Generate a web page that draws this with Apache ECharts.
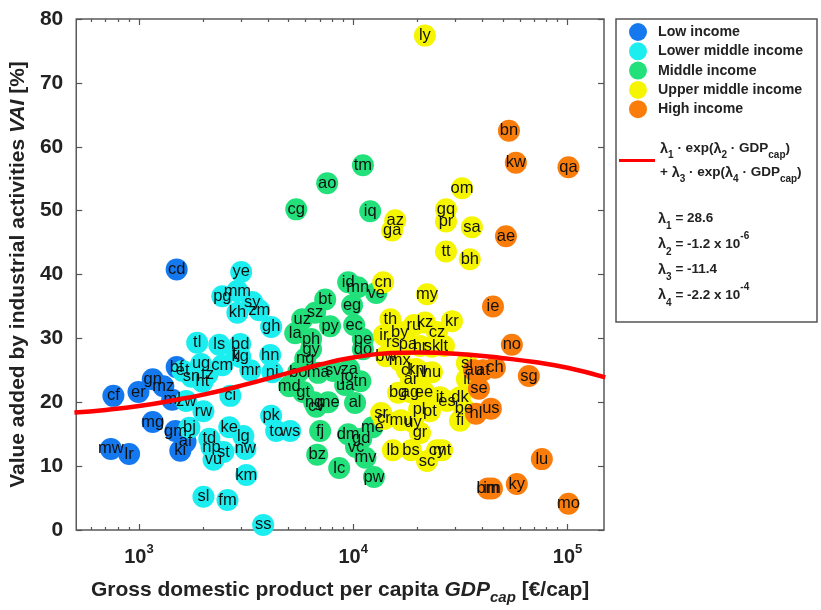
<!DOCTYPE html>
<html><head><meta charset="utf-8">
<script src="https://cdn.jsdelivr.net/npm/echarts@6/dist/echarts.min.js"></script>
<style>html,body{margin:0;padding:0;background:#fff}#c{width:821px;height:610px}</style>
</head><body><div id="c"></div>
<script>
// ---------- data (GDP per capita in €/cap, VAI in %) ----------
const lowLabels = ['cd','mw','lr','cf','er','gn','mz','bf','ml','mg','gm','af','ki'];
const lowGdp    = [1500,740,900,760,995,1160,1300,1500,1430,1160,1480,1650,1560];
const lowVai    = [40.8,12.7,11.9,21.0,21.6,23.6,22.5,25.5,20.4,16.9,15.5,13.8,12.4];

const lmLabels = ['ye','pg','mm','sy','kh','zm','gh','tl','ls','bd','tj','kg','hn','ug','cm','tz','mr','ni','et','sn','ht','ci','zw','rw','bj','td','np','st','vu','ke','lg','nw','km','sl','fm','ss','pk','to','ws'];
const lmGdp    = [3000,2450,2880,3380,2880,3640,4140,1870,2370,2970,2850,2970,4100,1950,2450,2090,3310,4190,1600,1760,1980,2670,1660,2000,1720,2130,2180,2480,2230,2640,3070,3140,3170,2000,2590,3800,4140,4370,5080];
const lmVai    = [40.4,36.6,37.4,35.7,34.0,34.4,31.8,29.3,29.0,29.1,27.5,27.1,27.4,26.0,25.8,24.4,25.0,24.7,24.9,24.0,23.2,21.0,20.2,18.6,16.0,14.3,13.0,12.2,11.0,16.1,14.7,12.7,8.6,5.2,4.7,0.8,17.9,15.5,15.5];

const midLabels = ['tm','ao','cg','iq','bt','sz','uz','la','ph','py','gy','ng','bo','md','gt','ma','sv','za','jo','ua','tn','ec','eg','id','mn','ve','pe','do','ng','me','cv','al','fj','bz','lc','dm','vc','gd','mv','pw','me'];
const midGdp    = [11100,7560,5420,12000,7400,6640,5780,5360,6360,7800,6360,5970,5540,5030,5840,6860,8060,9570,9370,9170,10800,10100,9880,9470,10500,12800,11100,11100,6570,7640,6720,10200,7010,6790,8600,9470,10300,10900,11400,12500,12300];
const midVai    = [57.1,54.3,50.2,49.9,36.1,34.0,33.0,30.8,29.9,31.9,28.3,26.8,24.7,22.5,21.6,24.6,24.9,25.2,24.0,22.7,23.3,32.1,35.2,38.8,38.0,37.1,29.9,28.3,20.0,20.0,19.3,19.9,15.5,11.8,9.7,15.0,13.0,14.3,11.3,8.3,16.1];

const umLabels = ['ly','om','gq','pr','az','ga','sa','tt','bh','cn','my','th','ru','kz','kr','cz','by','ir','rs','pa','hr','sk','lt','bw','mx','cl','kn','lv','hu','ar','bg','ag','ee','it','es','dk','be','fi','si','il','cy','mt','sc','gr','bs','lb','sr','cr','mu','uy','pt','pl'];
const umGdp    = [21600,32200,27100,27100,15700,15200,35800,27100,35000,13800,22100,14900,19200,21600,28900,24600,16500,13900,15300,18000,20500,23300,26500,14200,16500,17800,19600,20900,23300,18600,16200,18400,21400,25400,27400,31500,32900,31500,33900,33900,24600,26000,22100,20500,18600,15300,13500,13900,16700,19000,22800,20300];
const umVai    = [77.4,53.5,50.2,48.3,48.5,46.9,47.4,43.6,42.4,38.8,36.9,33.0,32.1,32.5,32.7,31.0,31.0,30.5,29.3,29.0,28.8,28.7,28.8,27.2,26.5,25.0,25.2,24.7,24.7,23.5,21.5,21.6,21.6,20.8,20.2,20.8,19.0,17.1,26.1,23.6,12.5,12.5,10.8,15.2,12.5,12.5,18.3,17.4,17.2,16.9,18.6,18.9];

const hiLabels = ['bn','kw','qa','ae','ie','no','sg','ch','at','au','se','us','nl','lu','ky','bm','im','mo'];
const hiGdp    = [53300,57400,101000,51600,44900,55000,66000,45800,40300,36600,38600,43900,37400,75900,58000,42500,44400,101000];
const hiVai    = [62.5,57.5,56.8,46.0,35.0,29.0,24.1,25.4,25.0,25.0,22.1,19.0,18.2,11.1,7.2,6.5,6.5,4.1];

// fitted curve
const fitGdp = [500,700,1000,1500,2000,3000,5000,7000,10000,15000,20000,30000,50000,70000,100000,150000];
const fitVai = [18.4,18.8,19.4,20.4,21.2,22.6,24.6,25.9,27.0,27.7,27.8,27.6,26.9,26.3,25.4,23.9];

const groupNames = ['Low income','Lower middle income','Middle income','Upper middle income','High income'];
const groupColors = ['#1479EE','#1CEEF0','#22E07A','#F5F500','#FA7D0C'];

const xMajorTicks = [1000,10000,100000];
const xMinorTicks = [600,700,800,900,2000,3000,4000,5000,6000,7000,8000,9000,20000,30000,40000,50000,60000,70000,80000,90000];
const yTicks = {min:0, max:80, interval:10};

const fitParamText = ['28.6','-1.2 x 10','-11.4','-2.2 x 10'];
const fitParamExp  = ['','-6','','-4'];

// ---------- chart ----------
const FONT = 'Liberation Sans, Arial, sans-serif';
const groups = [
  [lowLabels, lowGdp, lowVai],
  [lmLabels, lmGdp, lmVai],
  [midLabels, midGdp, midVai],
  [umLabels, umGdp, umVai],
  [hiLabels, hiGdp, hiVai]
];
const scatterSeries = groups.map((g, k) => ({
  name: groupNames[k],
  type: 'scatter',
  xAxisIndex: 0, yAxisIndex: 0,
  symbol: 'circle',
  symbolSize: 22,
  itemStyle: {color: groupColors[k], opacity: 1},
  label: {
    show: true, position: 'inside',
    formatter: p => p.data[2],
    color: '#111', fontSize: 16.5, fontFamily: FONT
  },
  emphasis: {disabled: true},
  data: g[1].map((x, i) => [x, g[2][i], g[0][i]])
}));

const fitSeries = {
  name: 'fit',
  type: 'line',
  xAxisIndex: 0, yAxisIndex: 0,
  smooth: true,
  showSymbol: false,
  symbol: 'none',
  z: 5,
  lineStyle: {color: '#FF0000', width: 4.5},
  itemStyle: {color: '#FF0000'},
  data: fitGdp.map((x, i) => [x, fitVai[i]])
};

const xBase = {type: 'log', min: 510, max: 148000, gridIndex: 0,
  axisLine: {show: false}, splitLine: {show: false}, minorTick: {show: false}};
const tickStyle = {color: '#555', width: 1.2};

const option = {
  animation: false,
  backgroundColor: '#fff',
  grid: {left: 76, right: 217, top: 19, bottom: 79, show: true,
    borderColor: '#5a5a5a', borderWidth: 1.5, backgroundColor: '#fff'},
  xAxis: [
    Object.assign({}, xBase, {
      position: 'bottom',
      axisTick: {inside: true, length: 6, customValues: xMajorTicks, lineStyle: tickStyle},
      axisLabel: {
        customValues: xMajorTicks, margin: 13,
        formatter: v => '{b|10}{s|' + Math.round(Math.log10(v)) + '}',
        rich: {
          b: {fontSize: 20, fontWeight: 'bold', fontFamily: FONT, color: '#222', lineHeight: 28},
          s: {fontSize: 13, fontWeight: 'bold', fontFamily: FONT, color: '#222', lineHeight: 16, verticalAlign: 'top'}
        }
      },
      name: '{t|Gross domestic product per capita }{i|GDP}{c|cap}{t| [€/cap]}',
      nameLocation: 'middle', nameGap: 45,
      nameTextStyle: {
        rich: {
          t: {fontSize: 21, fontWeight: 'bold', fontFamily: FONT, color: '#222', lineHeight: 30},
          i: {fontSize: 21, fontWeight: 'bold', fontStyle: 'italic', fontFamily: FONT, color: '#222', lineHeight: 30},
          c: {fontSize: 15, fontWeight: 'bold', fontStyle: 'italic', fontFamily: FONT, color: '#222', lineHeight: 12, verticalAlign: 'bottom'}
        }
      }
    }),
    Object.assign({}, xBase, {
      position: 'bottom',
      axisTick: {inside: true, length: 3, customValues: xMinorTicks, lineStyle: tickStyle},
      axisLabel: {show: false}
    }),
    Object.assign({}, xBase, {
      position: 'top',
      axisTick: {inside: true, length: 6, customValues: xMajorTicks, lineStyle: tickStyle},
      axisLabel: {show: false}
    }),
    Object.assign({}, xBase, {
      position: 'top',
      axisTick: {inside: true, length: 3, customValues: xMinorTicks, lineStyle: tickStyle},
      axisLabel: {show: false}
    })
  ],
  yAxis: [
    {
      type: 'value', min: yTicks.min, max: yTicks.max, interval: yTicks.interval,
      position: 'left',
      axisLine: {show: false}, splitLine: {show: false},
      axisTick: {inside: true, length: 6, lineStyle: tickStyle},
      axisLabel: {fontSize: 21, fontWeight: 'bold', fontFamily: FONT, color: '#222', margin: 13},
      name: '{t|Value added by industrial activities }{i|VAI}{t| [%]}',
      nameLocation: 'middle', nameRotate: 90, nameGap: 40,
      nameTextStyle: {
        rich: {
          t: {fontSize: 21, fontWeight: 'bold', fontFamily: FONT, color: '#222'},
          i: {fontSize: 21, fontWeight: 'bold', fontStyle: 'italic', fontFamily: FONT, color: '#222'}
        }
      }
    },
    {
      type: 'value', min: yTicks.min, max: yTicks.max, interval: yTicks.interval,
      position: 'right',
      axisLine: {show: false}, splitLine: {show: false},
      axisTick: {inside: true, length: 6, lineStyle: tickStyle},
      axisLabel: {show: false}
    }
  ],
  legend: [
    {
      data: groupNames,
      orient: 'vertical', left: 629, top: 23, z: 10, padding: 0,
      icon: 'circle', itemWidth: 18, itemHeight: 18, itemGap: 1.3,
      selectedMode: false,
      textStyle: {fontSize: 14.2, fontWeight: 'bold', fontFamily: FONT, color: '#222', padding: [0, 0, 0, 6]}
    },
    {
      data: [{name: 'fit', icon: 'rect'}],
      orient: 'vertical', left: 619, top: 141, z: 10, padding: 0,
      itemWidth: 36, itemHeight: 3, selectedMode: false,
      formatter: () => '{l|λ}{s|1}{t| · exp(}{l|λ}{s|2}{t| · GDP}{s|cap}{t|)}\n{t|+ }{l|λ}{s|3}{t| · exp(}{l|λ}{s|4}{t| · GDP}{s|cap}{t|)}',
      textStyle: {
        padding: [0, 0, 0, 0],
        rich: {
          t: {fontSize: 13.5, fontWeight: 'bold', fontFamily: FONT, color: '#222', lineHeight: 24},
          l: {fontSize: 14.5, fontWeight: 'bold', fontFamily: FONT, color: '#222', lineHeight: 24},
          s: {fontSize: 10, fontWeight: 'bold', fontFamily: FONT, color: '#222', lineHeight: 14, verticalAlign: 'bottom'}
        }
      }
    }
  ],
  graphic: [
    {type: 'rect', z: 1, silent: true,
      shape: {x: 616, y: 19, width: 201, height: 303},
      style: {fill: '#fff', stroke: '#555', lineWidth: 1.5}},
    {type: 'text', z: 10, left: 658, top: 211, silent: true,
      style: {
        text: fitParamText.map((p, i) => '{l|λ}{s|' + (i + 1) + '}{t| = ' + p + '}' + (fitParamExp[i] ? '{p|' + fitParamExp[i] + '}' : '')).join('\n'),
        rich: {
          t: {fontSize: 13.5, fontWeight: 'bold', fontFamily: FONT, fill: '#222', lineHeight: 25.5},
          l: {fontSize: 14.5, fontWeight: 'bold', fontFamily: FONT, fill: '#222', lineHeight: 25.5},
          s: {fontSize: 10, fontWeight: 'bold', fontFamily: FONT, fill: '#222', lineHeight: 15, verticalAlign: 'bottom'},
          p: {fontSize: 10, fontWeight: 'bold', fontFamily: FONT, fill: '#222', lineHeight: 15, verticalAlign: 'top'}
        }
      }}
  ],
  series: scatterSeries.concat([fitSeries])
};

const chart = echarts.init(document.getElementById('c'), null, {renderer: 'canvas'});
chart.setOption(option);
</script>
</body></html>
